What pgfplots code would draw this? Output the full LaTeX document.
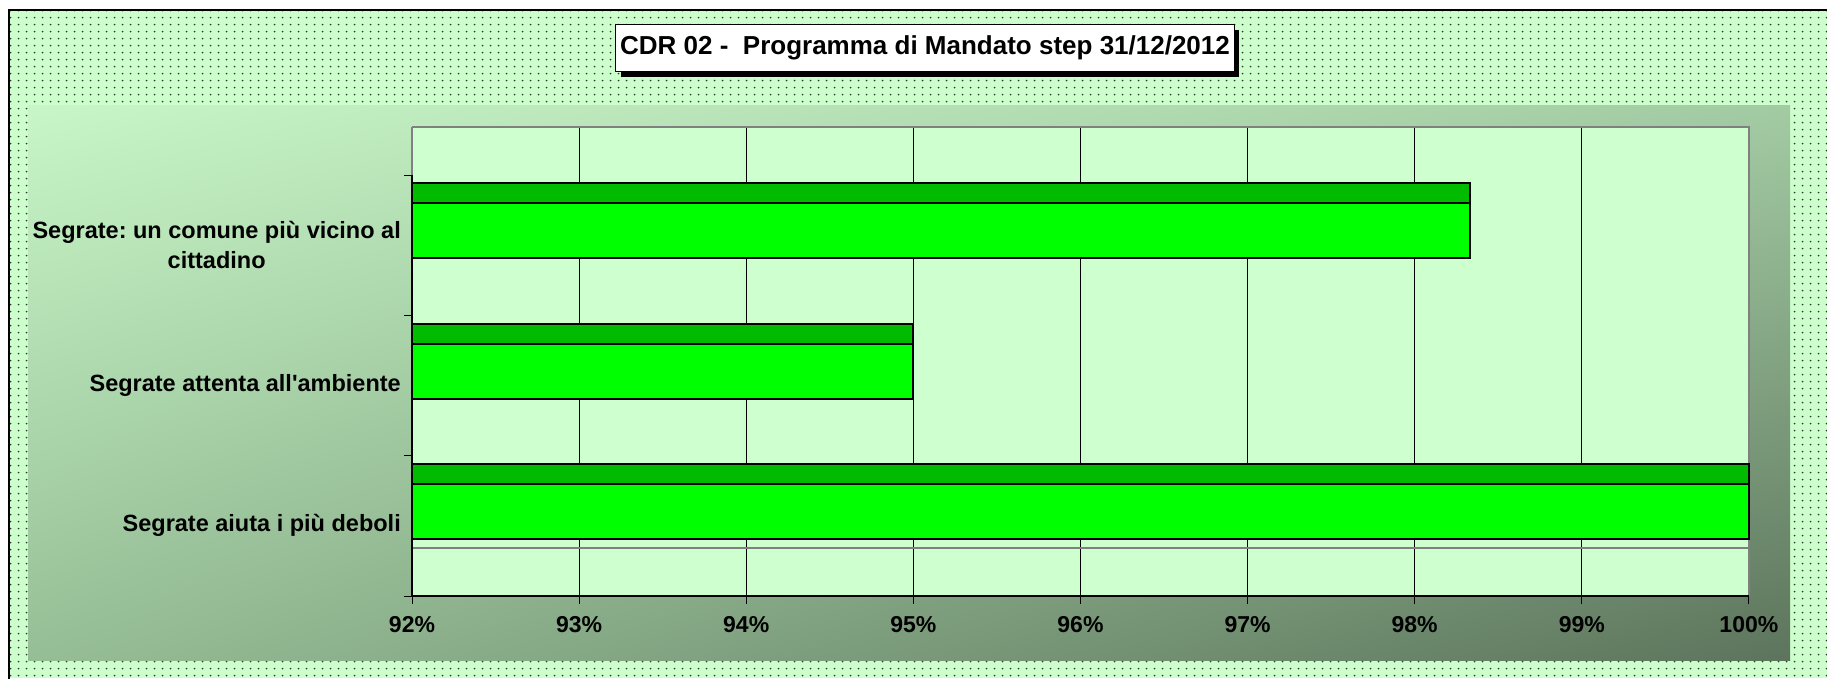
\documentclass[border=0pt]{standalone}
\usepackage{fontspec}
\setmainfont{Liberation Sans}
\usepackage{pgfplots}
\pgfplotsset{compat=1.18}
\usetikzlibrary{patterns.meta,shadows,shadings}
\definecolor{bggreen}{RGB}{204,255,204}
\definecolor{wallgreen}{RGB}{206,255,206}
\definecolor{bartop}{RGB}{0,187,0}
\definecolor{barfront}{RGB}{0,255,0}
\definecolor{gUL}{RGB}{200,246,200}
\definecolor{gUR}{RGB}{163,203,163}
\definecolor{gLL}{RGB}{150,190,150}
\definecolor{gLR}{RGB}{92,116,92}
\definecolor{wallgray}{RGB}{128,128,128}

\tikzdeclarepattern{
  name=exceldots,
  bottom left={(0pt,0pt)},
  top right={(7.6pt,7.4pt)},
  tile size={(7.6pt,7.4pt)},
  code={\fill (3.8pt,3.7pt) circle (1pt);}
}

\begin{document}
\frenchspacing
\begin{tikzpicture}
\begin{scope}[x=1pt,y=-1pt]
\path[use as bounding box] (0,0) rectangle (1827,678);
\fill[white] (0,0) rectangle (1827,678);
\fill[bggreen] (9,10) rectangle (1827,678);
\fill[pattern=exceldots, pattern color=black!80] (9,10) rectangle (1827,678);
\draw[black, line width=1.7pt] (9,690) -- (9,10) -- (1840,10);
\shade[upper left=gUL, upper right=gUR, lower left=gLL, lower right=gLR] (28,105) rectangle (1790,660);
\node[anchor=north west, draw=black, line width=1.3pt, fill=white, inner xsep=4.5pt, inner ysep=0pt,
      minimum height=47pt, font=\fontsize{26}{30}\selectfont\bfseries,
      drop shadow={shadow xshift=5pt, shadow yshift=-5pt, fill=black, opacity=1}]
      at (615,24) {CDR 02 - \ Programma di Mandato step 31/12/2012};
\end{scope}

\begin{axis}[
  at={(412pt,-596pt)}, anchor=south west,
  scale only axis, width=1337pt, height=469pt,
  xmin=92, xmax=100, ymin=0, ymax=3.342,
  clip=false,
  axis line style={draw=none},
  axis background/.style={fill=wallgreen},
  xtick={92,93,...,100},
  xticklabels={92\%,93\%,94\%,95\%,96\%,97\%,98\%,99\%,100\%},
  ytick={0,1,2,3},
  yticklabels={},
  extra y ticks={0.5,1.5,2.5},
  extra y tick labels={Segrate aiuta i più deboli, Segrate attenta all\textquotesingle ambiente, {Segrate: un comune più vicino al\\cittadino}},
  extra y tick style={major tick length=0pt, yticklabel style={align=center, xshift=-11pt, font=\fontsize{23.5}{30}\selectfont\bfseries}},
  tick align=outside,
  tick pos=left,
  major tick length=8pt,
  tick style={black, line width=1pt},
  xmajorgrids,
  grid style={black, line width=1pt},
  ticklabel style={font=\fontsize{23}{28}\selectfont\bfseries, inner sep=0pt},
  xticklabel style={yshift=-12.5pt},
]
\draw[wallgray, line width=2.5pt] (axis cs:92,3.342) -- (axis cs:100,3.342) -- (axis cs:100,0);
\draw[wallgray, line width=2.5pt] (axis cs:92,3.342) -- (axis cs:92,3);
\draw[wallgray, line width=2pt] (axis cs:92,0.342) -- (axis cs:100,0.342);
\draw[black, line width=1.2pt] (axis cs:92,3) -- (axis cs:92,0) -- (axis cs:100,0);
% bars: front faces and top faces
\addplot[draw=black, line width=2.2pt, fill=barfront] coordinates {(92,0.406) (100,0.406) (100,0.798) (92,0.798)} -- cycle;
\addplot[draw=black, line width=2.2pt, fill=bartop] coordinates {(92,0.798) (100,0.798) (100,0.941) (92,0.941)} -- cycle;
\addplot[draw=black, line width=2.2pt, fill=barfront] coordinates {(92,1.406) (95,1.406) (95,1.798) (92,1.798)} -- cycle;
\addplot[draw=black, line width=2.2pt, fill=bartop] coordinates {(92,1.798) (95,1.798) (95,1.941) (92,1.941)} -- cycle;
\addplot[draw=black, line width=2.2pt, fill=barfront] coordinates {(92,2.406) (98.33,2.406) (98.33,2.798) (92,2.798)} -- cycle;
\addplot[draw=black, line width=2.2pt, fill=bartop] coordinates {(92,2.798) (98.33,2.798) (98.33,2.941) (92,2.941)} -- cycle;
\end{axis}
\end{tikzpicture}
\end{document}
